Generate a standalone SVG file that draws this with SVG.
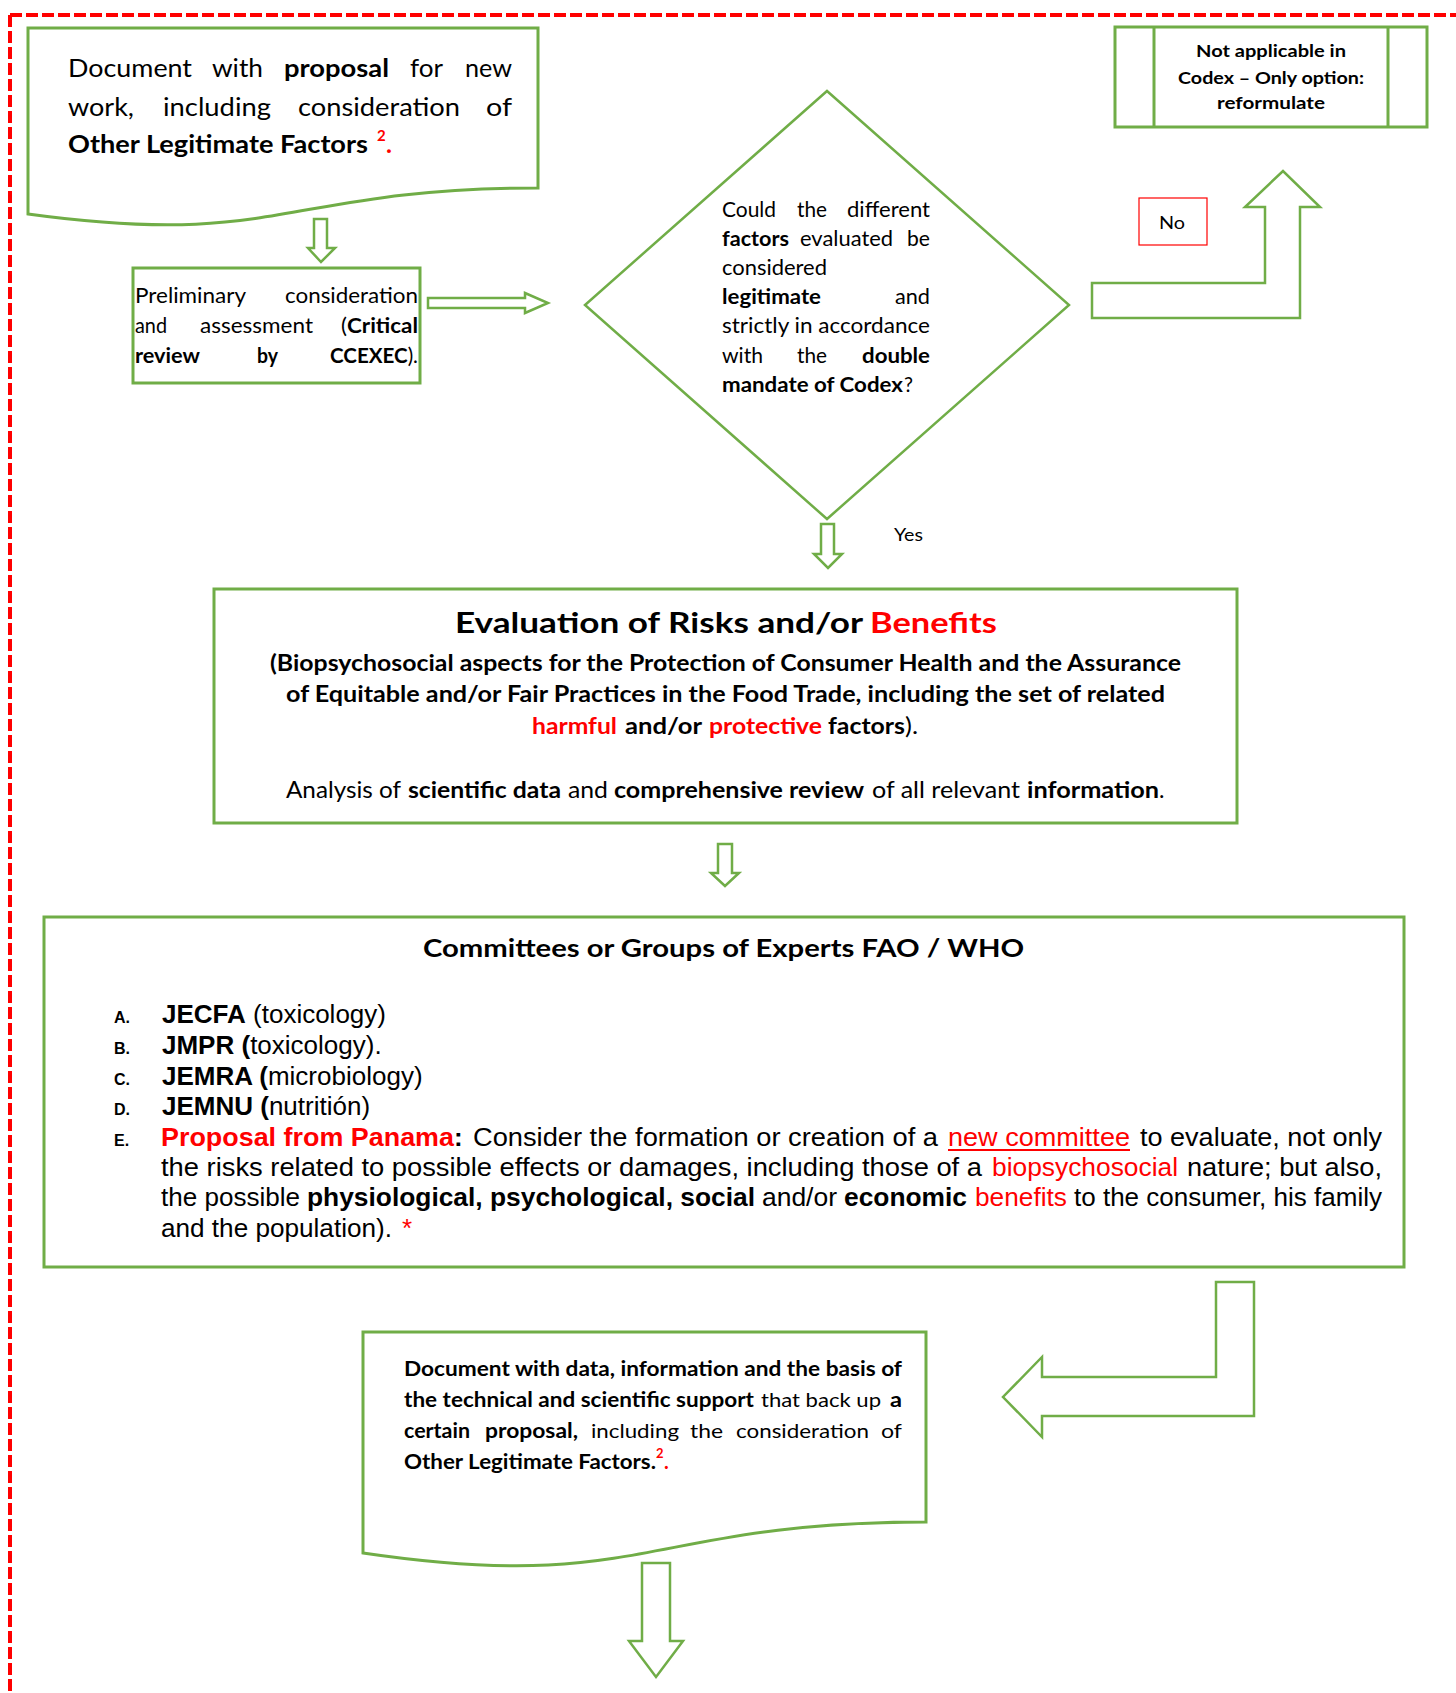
<svg xmlns="http://www.w3.org/2000/svg" width="1456" height="1693" viewBox="0 0 1456 1693">
<style>
.t{font-family:Lato,"Open Sans","Noto Sans",sans-serif;fill:#000}
.b{font-weight:700}
.n{font-weight:400}
.a{font-family:"Liberation Sans",Arial,sans-serif;fill:#000}
.r{fill:#FF0000}
.box{fill:#fff;stroke:#70AD47;stroke-width:3}
.arr{fill:#fff;stroke:#70AD47;stroke-width:2.5;stroke-linejoin:miter}
.f25{font-size:25px}.f21{font-size:21px}.f17{font-size:17px}.f23{font-size:23px}.f20{font-size:20px}.f26{font-size:26px}
</style>
<rect width="1456" height="1693" fill="#fff"/>
<g id="border" fill="none" stroke="#FF0000" stroke-width="4" stroke-dasharray="12 4">
<line x1="10" y1="15" x2="1456" y2="15"/>
<line x1="10" y1="15" x2="10" y2="1693"/>
</g>
<g id="doc1">
<path class="box" d="M28,28 H538 V188 C283,188 283,249 28,214 Z"/>
<g class="t f25">
<text x="68" y="77" textLength="124" lengthAdjust="spacingAndGlyphs">Document</text>
<text x="212" y="77" textLength="51" lengthAdjust="spacingAndGlyphs">with</text>
<text class="t b" x="284" y="77" textLength="105" lengthAdjust="spacingAndGlyphs">proposal</text>
<text x="410" y="77" textLength="33" lengthAdjust="spacingAndGlyphs">for</text>
<text x="465" y="77" textLength="47" lengthAdjust="spacingAndGlyphs">new</text>
<text x="68" y="116" textLength="66" lengthAdjust="spacingAndGlyphs">work,</text>
<text x="163" y="116" textLength="108" lengthAdjust="spacingAndGlyphs">including</text>
<text x="298" y="116" textLength="162" lengthAdjust="spacingAndGlyphs">consideration</text>
<text x="486" y="116" textLength="26" lengthAdjust="spacingAndGlyphs">of</text>
<text class="t b" x="68" y="153" textLength="300" lengthAdjust="spacingAndGlyphs">Other Legitimate Factors</text>
<text class="t b r" x="377" y="141" font-size="15">2</text>
<text class="t b r" x="386" y="153">.</text>
</g>
</g>
<g id="prelim">
<rect class="box" x="133" y="268" width="287" height="115"/>
<g class="t f21">
<text x="135" y="303" textLength="111" lengthAdjust="spacingAndGlyphs">Preliminary</text>
<text x="285" y="303" textLength="133" lengthAdjust="spacingAndGlyphs">consideration</text>
<text x="135" y="333" textLength="32" lengthAdjust="spacingAndGlyphs">and</text>
<text x="200" y="333" textLength="113" lengthAdjust="spacingAndGlyphs">assessment</text>
<text x="341" y="333" textLength="77" lengthAdjust="spacingAndGlyphs">(<tspan class="b">Critical</tspan></text>
<text class="t b" x="135" y="363" textLength="65" lengthAdjust="spacingAndGlyphs">review</text>
<text class="t b" x="257" y="363" textLength="21" lengthAdjust="spacingAndGlyphs">by</text>
<text x="330" y="363" textLength="88" lengthAdjust="spacingAndGlyphs"><tspan class="b">CCEXEC</tspan>).</text>
</g>
</g>
<g id="decision">
<path class="arr" d="M827,91 L1069,305 L827,519 L585,305 Z"/>
<g class="t f21">
<text x="722" y="217" textLength="54" lengthAdjust="spacingAndGlyphs">Could</text>
<text x="797" y="217" textLength="30" lengthAdjust="spacingAndGlyphs">the</text>
<text x="847" y="217" textLength="83" lengthAdjust="spacingAndGlyphs">different</text>
<text class="t b" x="722" y="246" textLength="67" lengthAdjust="spacingAndGlyphs">factors</text>
<text x="800" y="246" textLength="93" lengthAdjust="spacingAndGlyphs">evaluated</text>
<text x="907" y="246" textLength="23" lengthAdjust="spacingAndGlyphs">be</text>
<text x="722" y="275" textLength="105" lengthAdjust="spacingAndGlyphs">considered</text>
<text class="t b" x="722" y="304" textLength="99" lengthAdjust="spacingAndGlyphs">legitimate</text>
<text x="895" y="304" textLength="35" lengthAdjust="spacingAndGlyphs">and</text>
<text x="722" y="333" textLength="208" lengthAdjust="spacingAndGlyphs">strictly in accordance</text>
<text x="722" y="363" textLength="41" lengthAdjust="spacingAndGlyphs">with</text>
<text x="797" y="363" textLength="30" lengthAdjust="spacingAndGlyphs">the</text>
<text class="t b" x="862" y="363" textLength="68" lengthAdjust="spacingAndGlyphs">double</text>
<text class="t b" x="722" y="392" textLength="181" lengthAdjust="spacingAndGlyphs">mandate of Codex</text>
<text x="904" y="392" textLength="9" lengthAdjust="spacingAndGlyphs">?</text>
</g>
</g>
<g id="notApplicable">
<rect class="box" x="1115" y="27" width="312" height="100"/>
<line x1="1154" y1="27" x2="1154" y2="127" stroke="#70AD47" stroke-width="3"/>
<line x1="1388" y1="27" x2="1388" y2="127" stroke="#70AD47" stroke-width="3"/>
<g class="t b f17" text-anchor="middle">
<text x="1271" y="57" textLength="150" lengthAdjust="spacingAndGlyphs">Not applicable in</text>
<text x="1271" y="84" textLength="186" lengthAdjust="spacingAndGlyphs">Codex – Only option:</text>
<text x="1271" y="109" textLength="108" lengthAdjust="spacingAndGlyphs">reformulate</text>
</g>
</g>
<g id="noLabel">
<rect x="1139" y="198" width="68" height="47" fill="#fff" stroke="#FF0000" stroke-width="1.2"/>
<text class="t f17" x="1159" y="229" textLength="26" lengthAdjust="spacingAndGlyphs">No</text>
</g>
<g id="evaluation">
<rect class="box" x="214" y="589" width="1023" height="234"/>
<text class="t b" font-size="28" x="455" y="633" textLength="408" lengthAdjust="spacingAndGlyphs">Evaluation of Risks and/or</text>
<text class="t b r" font-size="28" x="870" y="633" textLength="127" lengthAdjust="spacingAndGlyphs">Benefits</text>
<g class="t b f23">
<text x="270" y="671" textLength="911" lengthAdjust="spacingAndGlyphs">(Biopsychosocial aspects for the Protection of Consumer Health and the Assurance</text>
<text x="286" y="702" textLength="879" lengthAdjust="spacingAndGlyphs">of Equitable and/or Fair Practices in the Food Trade, including the set of related</text>
<text class="t b r" x="532" y="734" textLength="85" lengthAdjust="spacingAndGlyphs">harmful</text>
<text x="625" y="734" textLength="77" lengthAdjust="spacingAndGlyphs">and/or</text>
<text class="t b r" x="709" y="734" textLength="113" lengthAdjust="spacingAndGlyphs">protective</text>
<text x="828" y="734" textLength="77" lengthAdjust="spacingAndGlyphs">factors</text>
<text class="t n" x="905" y="734" textLength="13" lengthAdjust="spacingAndGlyphs">).</text>
</g>
<g class="t f23">
<text x="286" y="798" textLength="115" lengthAdjust="spacingAndGlyphs">Analysis of</text>
<text class="t b" x="408" y="798" textLength="153" lengthAdjust="spacingAndGlyphs">scientific data</text>
<text x="568" y="798" textLength="40" lengthAdjust="spacingAndGlyphs">and</text>
<text class="t b" x="614" y="798" textLength="250" lengthAdjust="spacingAndGlyphs">comprehensive review</text>
<text x="872" y="798" textLength="148" lengthAdjust="spacingAndGlyphs">of all relevant</text>
<text class="t b" x="1027" y="798" textLength="132" lengthAdjust="spacingAndGlyphs">information</text>
<text x="1159" y="798">.</text>
</g>
</g>
<g id="committees">
<rect class="box" x="44" y="917" width="1360" height="350"/>
<text class="t b" font-size="25" x="423" y="957" textLength="601" lengthAdjust="spacingAndGlyphs">Committees or Groups of Experts FAO / WHO</text>
<g class="a b" font-size="16">
<text x="114" y="1023">A.</text>
<text x="114" y="1054">B.</text>
<text x="114" y="1085">C.</text>
<text x="114" y="1115">D.</text>
<text x="114" y="1146">E.</text>
</g>
<g class="a f26">
<text x="162" y="1023"><tspan font-weight="700">JECFA</tspan> (toxicology)</text>
<text x="162" y="1054"><tspan font-weight="700">JMPR (</tspan>toxicology).</text>
<text x="162" y="1085"><tspan font-weight="700">JEMRA (</tspan>microbiology)</text>
<text x="162" y="1115"><tspan font-weight="700">JEMNU (</tspan>nutritión)</text>
<text class="a r" font-weight="700" x="161" y="1146" textLength="293" lengthAdjust="spacingAndGlyphs">Proposal from Panama</text>
<text x="454" y="1146" font-weight="700">:</text>
<text x="473" y="1146" textLength="465" lengthAdjust="spacingAndGlyphs">Consider the formation or creation of a</text>
<text class="a r" x="948" y="1146" textLength="182" lengthAdjust="spacingAndGlyphs">new committee</text>
<line x1="948" y1="1150" x2="1130" y2="1150" stroke="#FF0000" stroke-width="2"/>
<text x="1140" y="1146" textLength="242" lengthAdjust="spacingAndGlyphs">to evaluate, not only</text>
<text x="161" y="1176" textLength="821" lengthAdjust="spacingAndGlyphs">the risks related to possible effects or damages, including those of a</text>
<text class="a r" x="992" y="1176" textLength="186" lengthAdjust="spacingAndGlyphs">biopsychosocial</text>
<text x="1187" y="1176" textLength="195" lengthAdjust="spacingAndGlyphs">nature; but also,</text>
<text x="161" y="1206" textLength="139" lengthAdjust="spacingAndGlyphs">the possible</text>
<text x="307" y="1206" font-weight="700" textLength="448" lengthAdjust="spacingAndGlyphs">physiological, psychological, social</text>
<text x="762" y="1206" textLength="75" lengthAdjust="spacingAndGlyphs">and/or</text>
<text x="844" y="1206" font-weight="700" textLength="123" lengthAdjust="spacingAndGlyphs">economic</text>
<text class="a r" x="975" y="1206" textLength="92" lengthAdjust="spacingAndGlyphs">benefits</text>
<text x="1074" y="1206" textLength="308" lengthAdjust="spacingAndGlyphs">to the consumer, his family</text>
<text x="161" y="1237" textLength="231" lengthAdjust="spacingAndGlyphs">and the population).</text>
<text class="a r" x="402" y="1237">*</text>
</g>
</g>
<g id="doc2">
<path class="box" d="M363,1332 H926 V1522 C644.5,1522 644.5,1594.5 363,1553 Z"/>
<g class="t f20">
<text class="t b" x="404" y="1376" textLength="498" lengthAdjust="spacingAndGlyphs">Document with data, information and the basis of</text>
<text class="t b" x="404" y="1407" textLength="350" lengthAdjust="spacingAndGlyphs">the technical and scientific support</text>
<text x="761" y="1407" textLength="120" lengthAdjust="spacingAndGlyphs">that back up</text>
<text class="t b" x="890" y="1407" textLength="12" lengthAdjust="spacingAndGlyphs">a</text>
<text class="t b" x="404" y="1438" textLength="66" lengthAdjust="spacingAndGlyphs">certain</text>
<text class="t b" x="485" y="1438" textLength="93" lengthAdjust="spacingAndGlyphs">proposal,</text>
<text x="591" y="1438" textLength="88" lengthAdjust="spacingAndGlyphs">including</text>
<text x="690" y="1438" textLength="33" lengthAdjust="spacingAndGlyphs">the</text>
<text x="736" y="1438" textLength="133" lengthAdjust="spacingAndGlyphs">consideration</text>
<text x="881" y="1438" textLength="21" lengthAdjust="spacingAndGlyphs">of</text>
<text class="t b" x="404" y="1469" textLength="252" lengthAdjust="spacingAndGlyphs">Other Legitimate Factors.</text>
<text class="t b r" x="656" y="1458" font-size="13">2</text>
<text class="t b r" x="664" y="1469">.</text>
</g>
</g>
<g id="connectors">
<path class="arr" d="M314,219 H327 V248 H335 L321,262 L308,248 H314 Z"/>
<path class="arr" d="M428,298 H525 V293 L548,303 L525,313 V308 H428 Z"/>
<path class="arr" stroke-width="3" d="M1092,283 H1265 V207 H1245 L1283,171 L1320,207 H1300 V318 H1092 Z"/>
<path class="arr" d="M821,524 H834 V554 H842 L828,568 L814,554 H821 Z"/>
<text class="t f17" x="894" y="541" textLength="29" lengthAdjust="spacingAndGlyphs">Yes</text>
<path class="arr" d="M718,844 H732 V873 H739 L725,886 L711,873 H718 Z"/>
<path class="arr" stroke-width="3" d="M1216,1282 H1254 V1416 H1042 V1437 L1003,1397 L1042,1357 V1377 H1216 Z"/>
<path class="arr" stroke-width="4" d="M642,1563 H670 V1641 H683 L656,1677 L629,1641 H642 Z"/>
</g>
</svg>
